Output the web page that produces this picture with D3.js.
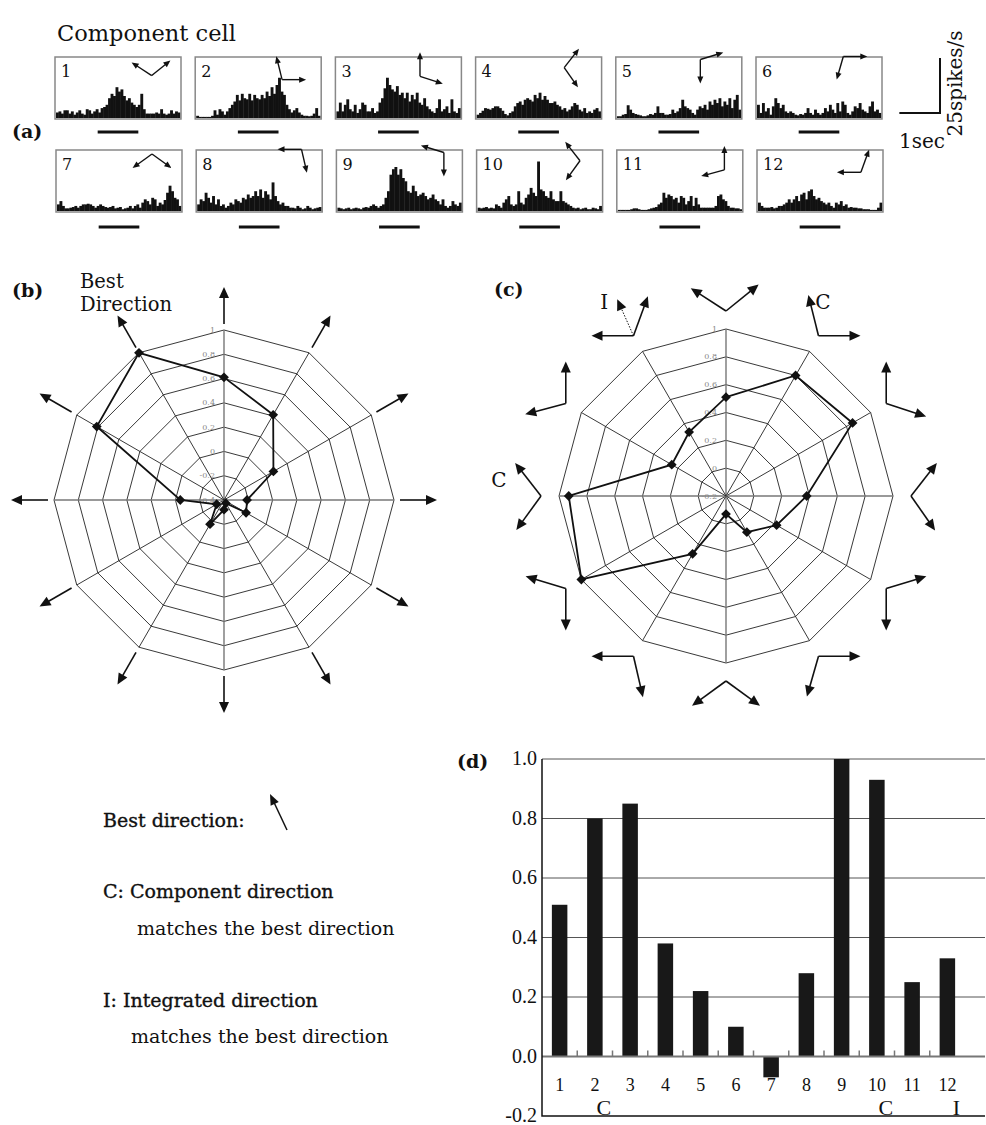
<!DOCTYPE html>
<html>
<head>
<meta charset="utf-8">
<script src="https://cdn.jsdelivr.net/npm/d3@7"></script>
<style>
body { margin: 0; background: #fff; }
svg { display: block; font-family: "DejaVu Serif", serif; }
</style>
</head>
<body>
<script>
var width = 986, height = 1125;

// cell number -> preferred plaid direction (deg, clockwise from up)
var cells = [1, 2, 3, 4, 5, 6, 7, 8, 9, 10, 11, 12];
var directions = [0, 30, 60, 90, 120, 150, 180, 210, 240, 270, 300, 330];
// the two component gratings drawn for each direction
var componentAngles = [[303, 51], [346, 90], [0, 108], [38, 145], [73, 180], [90, 196],
  [126, 234], [167, 270], [180, 287], [216, 322], [255, 360], [270, 20]];
var integratedAngle = 336; // dotted "I" arrow on the 330 deg pair

// PSTH, spikes/s, 50 bins per cell
var psth = [
  [2.5,3,2,3.5,3.5,2,3,1.5,2.5,3.5,2,1.5,4,3.5,2,3,4,2.5,4.5,5,6,9,11,10,14,12,13,10,8,9,7,6,5,6,11,4,2,2,2,2,2.5,2,4,2,1.5,2,3.5,2,3,2.5],
  [1,0.5,0.5,0.5,0.5,0.5,1,3.5,1.5,4,3,1.5,3,4.5,6,7.5,10.5,8,11,9,8.5,11,8,10.5,9,8.5,10.5,9,12,10,14,11,15,18.3,12,10.5,6,4,2.5,3.5,4.5,2.5,1.5,1,1,0.8,1,2,4.5,1],
  [3,7,3,6,8.5,4,3,6,2.3,4,7,6,3,3,4.5,2.3,3,7,9,13.5,18.3,15,13,12,14.5,10.5,11.5,9,11.5,7.5,10.5,8.5,11.5,7,6,9,5.3,4,3,2.3,4.5,8.5,3,4,5.3,2.3,8.5,3,2.3,4.5],
  [1.5,2.3,3.3,4.5,4.2,3.8,4.5,5.3,5.3,4.5,3.3,1.8,1.2,2.3,3,5.3,6.8,7.5,6,8.3,9,8.3,7.5,10.5,9,11.5,8.3,10,8.3,6.8,6.8,7.5,6,5.3,3.8,4.5,3,3.8,5.3,6.8,6,3.8,3,4.5,2.3,3,2.3,3.8,4.5,3],
  [0.8,0.8,1.5,1.8,5.8,3.8,2.3,1.8,1.5,1.2,0.8,0.8,1.2,1.8,1.5,2.3,5.3,2.3,2.3,1.5,1.5,1.8,3.8,2.3,3,4.5,8.3,5.3,4.5,3.8,2.3,1.5,3.8,5.3,4.5,6,3.8,7.5,6,8.3,6.8,9,5.3,7.5,6,9,4.5,8.3,10.5,3.8],
  [6,2.3,6.8,3,4.5,1.5,5.3,9,6.8,4.5,6,3,2.3,3,2.3,1.5,1.2,1.8,1.5,2.3,4.5,2.3,1.5,3.8,2.3,1.5,2.3,4.5,3,6,3.8,2.3,6.8,3,7.5,6,2.3,1.5,3,5.3,4.5,6.8,3.8,3,2.3,5.3,7.5,3,3.8,2.3],
  [3,4.5,2.3,1.2,1.2,1.5,1.8,2.3,1.5,2.3,3,3,3.3,3,2.3,1.5,2.3,3,2.3,1.8,1.5,1.8,2.3,1.2,1.5,1.8,0.8,1.2,1.5,2.3,1.2,2.3,3,1.5,3.8,5.3,4.5,3,6,5.3,2.3,3.8,3,5,8.3,11.5,9,6,5.3,2.3],
  [3,5.3,4.5,8.3,6,3.8,6.8,3,5.3,2.3,3,1.5,2.3,3.8,3,5.3,4.5,3.8,6,5.3,7.5,6,6.8,9,6.8,9.8,6,9,7.5,5.3,13,6.8,4.5,3,3.8,2.3,2.3,1.5,1.5,1.2,2.3,1.5,0.8,1.2,2.3,1.5,0.8,1.2,1.5,1.8],
  [1.5,1.2,0.8,1.2,1.5,0.8,1.2,1.5,1.2,0.8,1.5,1.8,1.5,2.3,3,2.3,1.5,2.3,3,6,9,16.5,19,20,16.5,19,15,13.5,9,8.3,11.5,9,6.8,7.5,8.3,6.8,5.3,6,7.5,5.3,4.5,3,5.3,2.3,1.5,2.3,4.5,3,2.3,3.8],
  [1.5,1.2,1.5,1.8,1.2,1.5,1.2,3,2.3,1.5,3.8,5.3,6.8,3,2.3,3,9,3.8,3,6,7.5,10.5,8.3,6.8,22.5,9.8,9,6.8,6,9,5.3,4.5,4.5,9,4.5,3.8,3,2.3,1.5,1.2,1.5,0.8,1.2,1.5,0.8,0.8,1.5,1.2,0.8,2.3],
  [0.5,0.5,0.5,0.5,0.5,0.8,1.2,1.2,0.8,0.5,0.5,0.5,0.8,1.2,1.5,1.8,3,3.8,8.3,6,7.5,6.8,5.3,6,3.8,6.8,6,3,4.5,6.8,2.3,6,3,1.5,1.5,1.5,1.5,1.5,1.5,2.3,6.8,7.5,5.3,4.5,2.3,1.5,1.5,1.2,1.2,0.8],
  [3.8,2.3,1.5,1.5,1.5,1.8,1.2,1.5,2.3,2.3,3,3.8,5.3,3.8,5.3,6.8,4.5,7.5,8.3,5.3,9,9.8,6.8,5.3,6,4.5,3.8,3,3.8,2.3,1.5,3.8,3,4.5,2.3,3,1.5,1.8,1.5,1.5,1.2,1.2,0.8,0.8,0.8,0.5,0.5,0.5,1.5,3.8]
];
var psthSeconds = 3.1;   // time span of one PSTH window
var stimSeconds = 1;     // stimulus bar under each PSTH

// normalised responses
var responseB = [0.61, 0.41, 0.07, -0.21, -0.19, -0.37, -0.32, -0.17, -0.33, -0.04, 0.81, 1.0];
var responseC = [0.51, 0.80, 0.85, 0.38, 0.22, 0.10, -0.07, 0.28, 1.0, 0.93, 0.25, 0.33];
var ticksB = [1, 0.8, 0.6, 0.4, 0.2, 0, -0.2, -0.4];
var ticksC = [1, 0.8, 0.6, 0.4, 0.2, 0, -0.2];
var barTicks = [1.0, 0.8, 0.6, 0.4, 0.2, 0.0, -0.2];
var matchLabels = [{cell: 2, label: "C"}, {cell: 10, label: "C"}, {cell: 12, label: "I"}];

var ink = "#111";

var svg = d3.select("body").append("svg")
  .attr("width", width)
  .attr("height", height);

function pt(cx, cy, deg, r) {
  var a = deg * Math.PI / 180;
  return [cx + r * Math.sin(a), cy - r * Math.cos(a)];
}

function drawArrow(g, x1, y1, x2, y2, o) {
  var len = Math.hypot(x2 - x1, y2 - y1), ux = (x2 - x1) / len, uy = (y2 - y1) / len;
  var bx = x2 - ux * o.head, by = y2 - uy * o.head;
  g.append("line")
    .attr("x1", x1).attr("y1", y1)
    .attr("x2", bx + ux).attr("y2", by + uy)
    .attr("stroke", ink)
    .attr("stroke-width", o.sw)
    .attr("stroke-dasharray", o.dash || null);
  g.append("path")
    .attr("d", d3.line()([[x2, y2], [bx - uy * o.hw / 2, by + ux * o.hw / 2], [bx + uy * o.hw / 2, by - ux * o.hw / 2]]) + "Z")
    .attr("fill", ink);
}

function drawPair(g, vx, vy, angles, len, o) {
  return angles.map(function(a) {
    var e = pt(vx, vy, a, len);
    drawArrow(g, vx, vy, e[0], e[1], o);
    return e;
  });
}

// ---------- (a) PSTHs ----------
var boxW = 126, boxH = 62;
var histY = d3.scaleLinear().domain([0, 25]).range([0, 55]);
var timeX = d3.scaleLinear().domain([0, psthSeconds]).range([0, boxW]);

var panelA = svg.append("g");
panelA.append("text").attr("x", 57).attr("y", 41).attr("font-size", 22.5).attr("fill", ink).text("Component cell");
panelA.append("text").attr("x", 12).attr("y", 138).attr("font-size", 19).attr("font-weight", "bold").attr("fill", ink).text("(a)");

cells.forEach(function(c, i) {
  var col = i % 6, row = Math.floor(i / 6);
  var x0 = 55 + col * 140.2 + row, y0 = row === 0 ? 57 : 150;
  var g = panelA.append("g").attr("transform", "translate(" + x0 + "," + y0 + ")");
  var bins = psth[i];
  var bx = d3.scaleLinear().domain([0, bins.length]).range([1, boxW - 1]);
  g.selectAll("rect.bin").data(bins).enter().append("rect")
    .attr("x", function(d, j) { return bx(j); })
    .attr("width", bx(1) - bx(0) + 0.4)
    .attr("y", function(d) { return boxH - 1 - histY(d); })
    .attr("height", function(d) { return histY(d); })
    .attr("fill", ink);
  g.append("rect").attr("width", boxW).attr("height", boxH)
    .attr("fill", "none").attr("stroke", "#888").attr("stroke-width", 1.5);
  g.append("text").attr("x", 6).attr("y", 20).attr("font-size", 16).attr("fill", ink).text(c);
  // stimulus bar
  var sw = timeX(stimSeconds);
  g.append("line").attr("x1", boxW / 2 - sw / 2).attr("x2", boxW / 2 + sw / 2)
    .attr("y1", row === 0 ? 75 : 77).attr("y2", row === 0 ? 75 : 77)
    .attr("stroke", ink).attr("stroke-width", 3);
  // component arrows, centred on a fixed spot
  var ends = componentAngles[i].map(function(a) { return pt(0, 0, a, 24); });
  var xs = ends.map(function(e) { return e[0]; }).concat([0]);
  var ys = ends.map(function(e) { return e[1]; }).concat([0]);
  var vx = 96 - (d3.min(xs) + d3.max(xs)) / 2, vy = 11 - (d3.min(ys) + d3.max(ys)) / 2;
  drawPair(g, vx, vy, componentAngles[i], 24, {head: 7, hw: 6, sw: 1.4});
});

// scale bar
var sb = panelA.append("g").attr("transform", "translate(940,113)");
sb.append("path")
  .attr("d", "M" + (-timeX(1)) + ",0H0V" + (-histY(25)))
  .attr("fill", "none").attr("stroke", ink).attr("stroke-width", 2);
sb.append("text").attr("transform", "translate(22," + (-histY(25) / 2 - 2) + ") rotate(-90)")
  .attr("text-anchor", "middle").attr("font-size", 20).attr("fill", ink).text("25spikes/s");
sb.append("text").attr("x", -41).attr("y", 35).attr("font-size", 20).attr("fill", ink).text("1sec");

// ---------- radar helper ----------
function drawRadar(g, cx, cy, R, ticks, values) {
  var r = d3.scaleLinear().domain([d3.min(ticks), d3.max(ticks)]).range([0, R]);
  var ring = d3.lineRadial()
    .angle(function(d) { return d * Math.PI / 180; })
    .curve(d3.curveLinearClosed);
  var gg = g.append("g").attr("transform", "translate(" + cx + "," + cy + ")");
  ticks.filter(function(t) { return r(t) > 0; }).forEach(function(t) {
    gg.append("path").attr("d", ring.radius(r(t))(directions))
      .attr("fill", "none").attr("stroke", "#222").attr("stroke-width", 0.9);
  });
  directions.forEach(function(a) {
    var e = pt(0, 0, a, R);
    gg.append("line").attr("x1", 0).attr("y1", 0).attr("x2", e[0]).attr("y2", e[1])
      .attr("stroke", a % 90 === 0 ? "#777" : "#222")
      .attr("stroke-width", a % 90 === 0 ? 1.4 : 0.9);
  });
  ticks.forEach(function(t) {
    gg.append("text").attr("x", -9).attr("y", -r(t) + 2.5)
      .attr("text-anchor", "end").attr("font-size", 8).attr("fill", "#888")
      .text(String(t));
  });
  var poly = d3.lineRadial()
    .angle(function(d, i) { return directions[i] * Math.PI / 180; })
    .radius(function(d) { return r(d); })
    .curve(d3.curveLinearClosed);
  gg.append("path").attr("d", poly(values))
    .attr("fill", "none").attr("stroke", ink).attr("stroke-width", 1.8);
  gg.selectAll("path.mk").data(values).enter().append("path")
    .attr("d", d3.symbol(d3.symbolSquare, 48))
    .attr("transform", function(d, i) {
      var p = pt(0, 0, directions[i], r(d));
      return "translate(" + p[0] + "," + p[1] + ") rotate(45)";
    })
    .attr("fill", ink);
  return r;
}

// ---------- (b) ----------
var cxB = 224, cyB = 500, RB = 170;
var panelB = svg.append("g");
drawRadar(panelB, cxB, cyB, RB, ticksB, responseB);
directions.forEach(function(a) {
  var s = pt(cxB, cyB, a, 176), e = pt(cxB, cyB, a, 213);
  drawArrow(panelB, s[0], s[1], e[0], e[1], {head: 11, hw: 10, sw: 1.6});
});
panelB.append("text").attr("x", 12).attr("y", 297).attr("font-size", 19).attr("font-weight", "bold").attr("fill", ink).text("(b)");
panelB.append("text").attr("x", 80).attr("y", 288).attr("font-size", 19.5).attr("fill", ink).text("Best");
panelB.append("text").attr("x", 80).attr("y", 311).attr("font-size", 19.5).attr("fill", ink).text("Direction");

// ---------- (c) ----------
var cxC = 726, cyC = 496, RC = 167;
var panelC = svg.append("g");
drawRadar(panelC, cxC, cyC, RC, ticksC, responseC);
var pairTips = directions.map(function(a, i) {
  var v = pt(cxC, cyC, a, 185);
  return drawPair(panelC, v[0], v[1], componentAngles[i], 42, {head: 11, hw: 10, sw: 1.6});
});
var vI = pt(cxC, cyC, 330, 185), eI = pt(vI[0], vI[1], integratedAngle, 40);
drawArrow(panelC, vI[0], vI[1], eI[0], eI[1], {head: 11, hw: 10, sw: 1, dash: "1.5,1.5"});
panelC.append("text").attr("x", 494).attr("y", 296).attr("font-size", 19).attr("font-weight", "bold").attr("fill", ink).text("(c)");
panelC.append("text").attr("x", eI[0] - 17).attr("y", 309).attr("font-size", 20).attr("fill", ink).text("I");
panelC.append("text").attr("x", pairTips[1][0][0] + 7).attr("y", 309).attr("font-size", 20).attr("fill", ink).text("C");
panelC.append("text").attr("x", pairTips[9][1][0] - 24).attr("y", 487).attr("font-size", 20).attr("fill", ink).text("C");

// ---------- legend ----------
var lg = svg.append("g").attr("fill", ink).attr("font-size", 19);
lg.append("text").attr("x", 103).attr("y", 827).attr("stroke", ink).attr("stroke-width", 0.35).text("Best direction:");
drawArrow(lg, 287, 830, 270, 794, {head: 11, hw: 9, sw: 1.5});
lg.append("text").attr("x", 103).attr("y", 898).attr("stroke", ink).attr("stroke-width", 0.35).text("C: Component direction");
lg.append("text").attr("x", 137).attr("y", 935).text("matches the best direction");
lg.append("text").attr("x", 103).attr("y", 1007).attr("stroke", ink).attr("stroke-width", 0.35).text("I: Integrated direction");
lg.append("text").attr("x", 131).attr("y", 1043).text("matches the best direction");

// ---------- (d) bars ----------
var panelD = svg.append("g").attr("font-family", "'Liberation Serif', serif");
var x = d3.scaleBand().domain(cells).range([542, 965]).paddingInner(0.56).paddingOuter(0.28);
var y = d3.scaleLinear().domain([-0.2, 1.0]).range([1116, 759]);
var gridRight = 985;

barTicks.filter(function(t) { return t > 0; }).forEach(function(t) {
  panelD.append("line").attr("x1", x.range()[0]).attr("x2", gridRight)
    .attr("y1", y(t)).attr("y2", y(t)).attr("stroke", "#555").attr("stroke-width", 1);
});
panelD.selectAll("rect.bar").data(responseC).enter().append("rect")
  .attr("x", function(d, i) { return x(cells[i]); })
  .attr("width", x.bandwidth())
  .attr("y", function(d) { return y(Math.max(0, d)); })
  .attr("height", function(d) { return Math.abs(y(d) - y(0)); })
  .attr("fill", "#181818");
panelD.append("line").attr("x1", x.range()[0]).attr("x2", gridRight)
  .attr("y1", y(0)).attr("y2", y(0)).attr("stroke", "#777").attr("stroke-width", 2);
cells.slice(0, -1).forEach(function(c) {
  var bxs = x(c) + x.bandwidth() / 2 + x.step() / 2;
  panelD.append("line").attr("x1", bxs).attr("x2", bxs)
    .attr("y1", y(0)).attr("y2", y(0) - 6).attr("stroke", "#777").attr("stroke-width", 1.5);
});
panelD.append("path")
  .attr("d", "M" + x.range()[0] + "," + y(1.0) + "V" + y(-0.2) + "H" + gridRight)
  .attr("fill", "none").attr("stroke", ink).attr("stroke-width", 1.5);

panelD.selectAll("text.yt").data(barTicks).enter().append("text")
  .attr("x", 537).attr("y", function(d) { return y(d) + 6; })
  .attr("text-anchor", "end").attr("font-size", 20).attr("fill", ink)
  .text(function(d) { return d < 0 ? "-" + d3.format(".1f")(-d) : d3.format(".1f")(d); });
panelD.selectAll("text.xt").data(cells).enter().append("text")
  .attr("x", function(c) { return x(c) + x.bandwidth() / 2; })
  .attr("y", 1091).attr("text-anchor", "middle").attr("font-size", 18).attr("fill", ink)
  .text(function(c) { return c; });
panelD.selectAll("text.ml").data(matchLabels).enter().append("text")
  .attr("x", function(d) { return x(d.cell) + x.bandwidth() / 2 + 9; })
  .attr("y", 1115).attr("text-anchor", "middle").attr("font-size", 22).attr("fill", ink)
  .text(function(d) { return d.label; });
panelD.append("text").attr("x", 457).attr("y", 768).attr("font-size", 19)
  .attr("font-family", "'DejaVu Serif', serif").attr("font-weight", "bold").attr("fill", ink).text("(d)");
</script>
</body>
</html>
